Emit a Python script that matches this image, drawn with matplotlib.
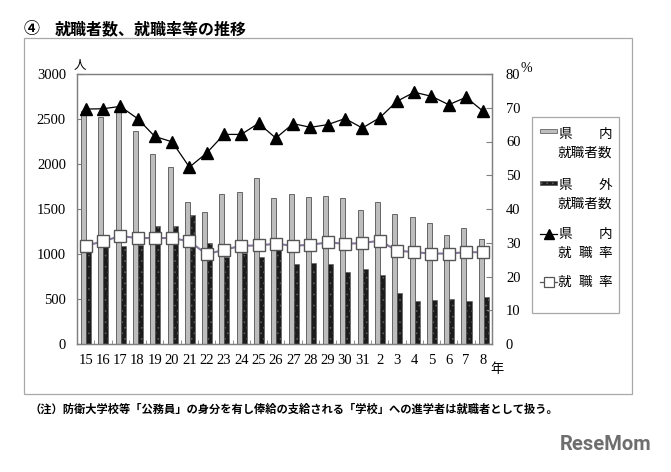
import matplotlib
matplotlib.use('Agg')
import numpy as np
import matplotlib.pyplot as plt
from matplotlib.patches import Rectangle
from matplotlib.lines import Line2D

plt.rcParams['font.family'] = ['Noto Sans CJK JP', 'DejaVu Sans']
plt.rcParams['hatch.linewidth'] = 0.5

years = ['15', '16', '17', '18', '19', '20', '21', '22', '23', '24', '25', '26',
         '27', '28', '29', '30', '31', '2', '3', '4', '5', '6', '7', '8']

# 県内就職者数 / 県外就職者数 (人)
in_pref = [2590, 2520, 2600, 2370, 2110, 1970, 1580, 1465, 1665, 1685, 1840, 1620,
           1665, 1630, 1645, 1625, 1490, 1575, 1445, 1410, 1350, 1215, 1285, 1165]
out_pref = [1025, 1075, 1085, 1100, 1310, 1310, 1435, 1120, 970, 1010, 965, 1040,
            890, 905, 885, 805, 835, 770, 565, 480, 490, 505, 480, 525]

# 県内就職率 / 就職率 (%)
in_rate = [69.6, 69.7, 70.4, 66.8, 61.5, 59.9, 52.4, 56.6, 62.1, 62.1, 65.4, 61.0,
           65.3, 64.2, 65.0, 66.8, 64.0, 67.0, 71.9, 74.6, 73.4, 70.9, 73.1, 68.9]
job_rate = [29.1, 30.4, 32.0, 31.4, 31.4, 31.4, 30.4, 26.6, 27.9, 29.1, 29.2, 29.7,
            29.1, 29.4, 30.1, 29.7, 29.9, 30.6, 27.7, 27.2, 26.8, 26.8, 27.2, 27.2]

W, H = 671, 472
num_font = 'Liberation Serif'
spine_c = '#808080'
gray_c, gray_e = '#bdbdbd', '#666666'
dark_c, dark_e = '#1c1c1c', '#5a5a5a'


def fx(px):
    return px / W


def fy(py):
    return 1 - py / H


fig = plt.figure(figsize=(6.71, 4.72), dpi=100)
ax = fig.add_axes([fx(77), fy(344), fx(492) - fx(77), fy(74) - fy(344)])

x = np.arange(len(years))
bw = 0.29
ax.bar(x - 0.12, in_pref, bw, color=gray_c, edgecolor=gray_e,
       linewidth=0.7, zorder=2)
ax.bar(x + 0.17, out_pref, bw, color=dark_c, edgecolor=dark_e,
       linewidth=0.4, hatch='...', zorder=2)

ax.set_xlim(-0.5, len(years) - 0.5)
ax.set_ylim(0, 3000)
ax.set_yticks(np.arange(0, 3001, 500))
ax.set_xticks(x)
ax.set_xticklabels(years)
ax.set_xticks(np.arange(-0.5, len(years), 1), minor=True)
ax.tick_params(axis='x', which='major', length=0, pad=7)
ax.tick_params(axis='x', which='minor', direction='in', length=3,
               color=spine_c)
ax.tick_params(axis='y', direction='in', length=4, color=spine_c, pad=8)
for lab in ax.get_xticklabels() + ax.get_yticklabels():
    lab.set_fontfamily(num_font)
    lab.set_fontsize(10.5)

ax2 = ax.twinx()
ax2.set_ylim(0, 80)
ax2.set_yticks(np.arange(0, 81, 10))
ax2.tick_params(axis='y', direction='in', length=4, color=spine_c, pad=10)
for lab in ax2.get_yticklabels():
    lab.set_fontfamily(num_font)
    lab.set_fontsize(10.5)

ax2.plot(x, in_rate, color='black', linewidth=0.9, marker='^',
         markersize=8, markerfacecolor='black', markeredgecolor='black',
         zorder=3)
ax2.plot(x, job_rate, color='#85779a', linewidth=1.5, marker='s',
         markersize=8, markerfacecolor='white', markeredgecolor='#555555',
         markeredgewidth=1.0, zorder=4)

for a in (ax, ax2):
    for s in a.spines.values():
        s.set_color(spine_c)
        s.set_linewidth(0.9)

# axis unit labels
fig.text(fx(80), fy(66), '人', fontsize=9, ha='center', va='center')
fig.text(fx(526), fy(69), '%', fontsize=10, ha='center', va='center',
         family=num_font)
fig.text(fx(497), fy(370), '年', fontsize=9.5, ha='center', va='center')

# outer frame
fig.add_artist(Rectangle((fx(24), fy(394)), fx(632) - fx(24),
                         fy(38) - fy(394), transform=fig.transFigure,
                         fill=False, edgecolor='#a8a8a8', linewidth=0.9))

# legend box
fig.add_artist(Rectangle((fx(532), fy(313)), fx(619) - fx(532),
                         fy(117) - fy(313), transform=fig.transFigure,
                         fill=False, edgecolor='#a8a8a8', linewidth=0.9))

lfs = 9.8
tl, tr = 558, 612
hx0, hx1 = 540, 557

# 県内就職者数
fig.add_artist(Rectangle((fx(hx0), fy(133)), fx(hx1) - fx(hx0), fy(129) - fy(133),
                         transform=fig.transFigure, facecolor=gray_c,
                         edgecolor=gray_e, linewidth=0.6))
# 県外就職者数
fig.add_artist(Rectangle((fx(hx0), fy(185)), fx(hx1) - fx(hx0), fy(181) - fy(185),
                         transform=fig.transFigure, facecolor=dark_c,
                         edgecolor=dark_e, linewidth=0.6, hatch='...'))
# 県内就職率
fig.add_artist(Line2D([fx(hx0), fx(hx1)], [fy(234), fy(234)],
                      transform=fig.transFigure, color='black', linewidth=0.9))
fig.add_artist(Line2D([fx(548.5)], [fy(234)], transform=fig.transFigure,
                      marker='^', markersize=6.5, color='black'))
# 就職率
fig.add_artist(Line2D([fx(hx0), fx(hx1)], [fy(282), fy(282)],
                      transform=fig.transFigure, color='#555555', linewidth=0.9))
fig.add_artist(Line2D([fx(548.5)], [fy(282)], transform=fig.transFigure,
                      marker='s', markersize=6.5, markerfacecolor='white',
                      markeredgecolor='#555555', markeredgewidth=0.9))

rows = [
    (134, '県', None, '内'),
    (153, '就職者数', None, None),
    (185, '県', None, '外'),
    (204, '就職者数', None, None),
    (234, '県', None, '内'),
    (253, '就', '職', '率'),
    (282, '就', '職', '率'),
]
for py, left, mid, right in rows:
    fig.text(fx(tl), fy(py), left, fontsize=lfs, ha='left', va='center')
    if mid:
        fig.text(fx((tl + tr) / 2), fy(py), mid, fontsize=lfs, ha='center',
                 va='center')
    if right:
        fig.text(fx(tr), fy(py), right, fontsize=lfs, ha='right', va='center')

# title and note
fig.text(fx(24), fy(29), '④', fontsize=11.5, ha='left', va='center',
         weight='bold')
fig.text(fx(55), fy(29), '就職者数、就職率等の推移', fontsize=11.5, ha='left',
         va='center', weight='bold')
fig.text(fx(30), fy(409),
         '（注）防衛大学校等「公務員」の身分を有し俸給の支給される「学校」への進学者は就職者として扱う。',
         fontsize=8.1, ha='left', va='center', weight='bold')

# watermark
fig.text(fx(606), fy(445), 'ReseMom', fontsize=14.5, ha='center', va='center',
         color='#6e6e6e', weight='bold', family='Roboto')

fig.savefig('out.png', dpi=100)
